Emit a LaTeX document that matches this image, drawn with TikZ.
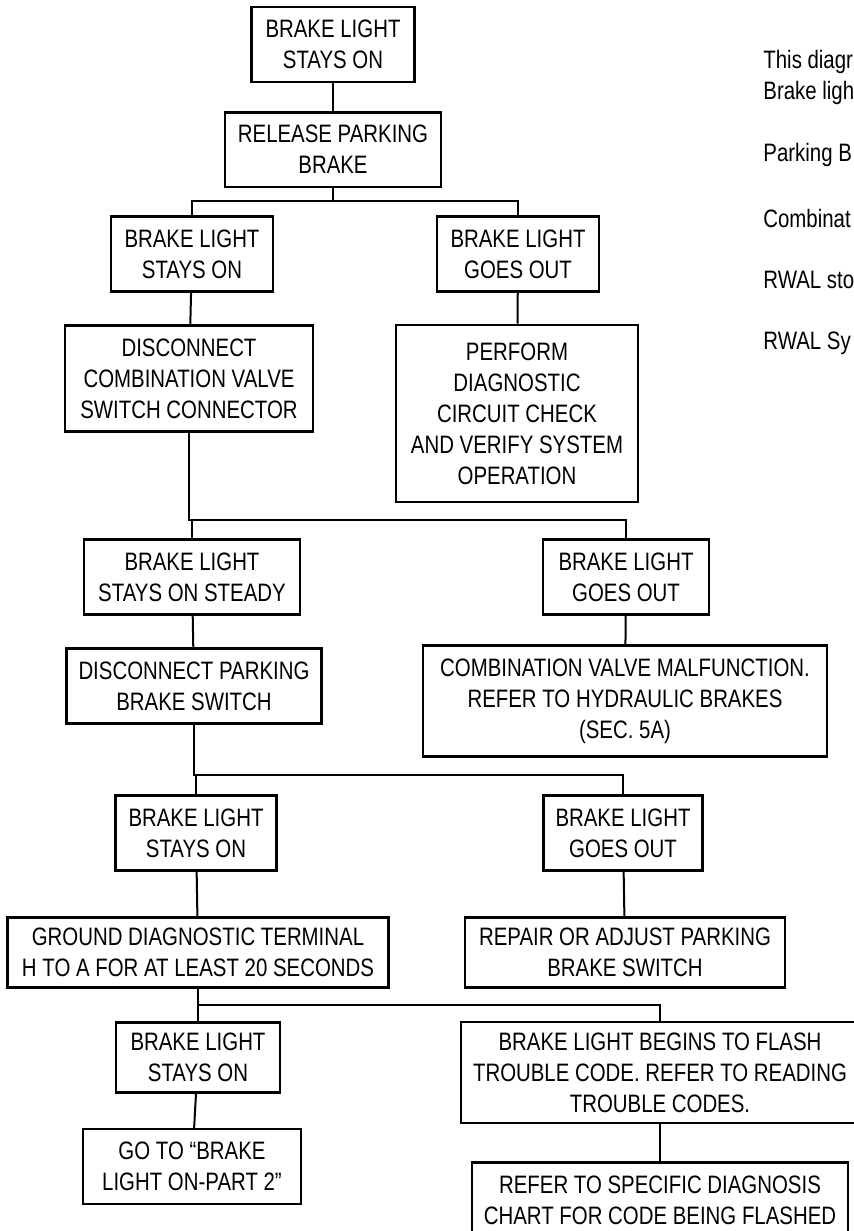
\documentclass[tikz,border=0pt]{standalone}
\usepackage{fontspec}
\setmainfont{Liberation Sans}[FakeStretch=0.81]
\usepackage{tikz}
\usetikzlibrary{shapes,arrows}
\tikzstyle{block} = [rectangle, draw, line width=1.3pt, align=center,
    inner xsep=6pt, inner ysep=6.5pt, font=\fontsize{12.6}{15.5}\selectfont]
\tikzstyle{note} = [anchor=west, inner sep=0pt, font=\fontsize{12.6}{15.5}\selectfont]
\tikzstyle{line} = [draw, line width=1pt]

\begin{document}
\begin{tikzpicture}
    \useasboundingbox (-166.5pt,22.25pt) rectangle (260pt,-593.25pt);
    % Place nodes
    \node [block, minimum width=81.5pt] (top) {BRAKE LIGHT\\STAYS ON};
    \node [block, below of=top, node distance=52.5pt, minimum width=108pt] (release) {RELEASE PARKING\\BRAKE};
    \node [block, below of=release, node distance=52.25pt, xshift=-70.5pt, minimum width=81pt] (stayon1) {BRAKE LIGHT\\STAYS ON};
    \node [block, right of=stayon1, node distance=163pt, minimum width=81pt] (goesout1) {BRAKE LIGHT\\GOES OUT};
    \node [block, below of=stayon1, node distance=62.25pt, xshift=-1.5pt, minimum width=124pt] (discvalve) {DISCONNECT\\COMBINATION VALVE\\SWITCH CONNECTOR};
    \node [block, right of=discvalve, node distance=164pt, yshift=-17.5pt, minimum width=121pt, minimum height=88.5pt] (perform) {PERFORM\\DIAGNOSTIC\\CIRCUIT CHECK\\AND VERIFY SYSTEM\\OPERATION};
    \node [block, below of=discvalve, node distance=99.25pt, xshift=1.5pt, minimum width=108pt] (steady) {BRAKE LIGHT\\STAYS ON STEADY};
    \node [block, right of=steady, node distance=217pt, minimum width=83pt] (goesout2) {BRAKE LIGHT\\GOES OUT};
    \node [block, below of=steady, node distance=54.5pt, xshift=1pt, minimum width=126.5pt] (discpark) {DISCONNECT PARKING\\BRAKE SWITCH};
    \node [block, right of=discpark, node distance=215.5pt, yshift=-7.5pt, minimum width=202pt] (malfunc) {COMBINATION VALVE MALFUNCTION.\\REFER TO HYDRAULIC BRAKES\\(SEC. 5A)};
    \node [block, below of=discpark, node distance=73.5pt, xshift=1pt, minimum width=80.5pt] (stayon2) {BRAKE LIGHT\\STAYS ON};
    \node [block, right of=stayon2, node distance=213.5pt, minimum width=78.5pt] (goesout3) {BRAKE LIGHT\\GOES OUT};
    \node [block, below of=stayon2, node distance=59.75pt, xshift=1pt, minimum width=190.5pt, inner ysep=5.2pt] (ground) {GROUND DIAGNOSTIC TERMINAL\\H TO A FOR AT LEAST 20 SECONDS};
    \node [block, right of=ground, node distance=213.5pt, minimum width=160pt, inner ysep=5.2pt] (repair) {REPAIR OR ADJUST PARKING\\BRAKE SWITCH};
    \node [block, below of=ground, node distance=52.5pt, minimum width=82pt, inner ysep=5.2pt] (stayon3) {BRAKE LIGHT\\STAYS ON};
    \node [block, right of=stayon3, node distance=231pt, yshift=-7.5pt, minimum width=192pt, inner ysep=5.2pt] (flash) {BRAKE LIGHT BEGINS TO FLASH\\TROUBLE CODE. REFER TO READING\\TROUBLE CODES.};
    \node [block, below of=stayon3, node distance=54.5pt, xshift=-3pt, minimum width=109pt] (part2) {GO TO ``BRAKE\\LIGHT ON-PART 2''};
    \node [block, below of=flash, node distance=63.75pt, minimum width=183.5pt] (specific) {REFER TO SPECIFIC DIAGNOSIS\\CHART FOR CODE BEING FLASHED};
    % Side notes
    \node [note, align=left] at (215pt,-16.5pt) (intro) {This diagr\\Brake ligh};
    \node [note] at (215pt,-55.25pt) (parknote) {Parking B};
    \node [note] at (215pt,-86.75pt) (valvenote) {Combinat};
    \node [note] at (215pt,-117.75pt) (rwalnote) {RWAL sto};
    \node [note] at (215pt,-149.25pt) (sysnote) {RWAL Sy};
    % Forks
    \coordinate (fork1) at ([yshift=7pt]stayon1.north);
    \coordinate (fork2) at ([yshift=9pt]steady.north);
    \coordinate (fork3) at ([yshift=9.5pt]stayon2.north);
    \coordinate (fork4) at ([yshift=8pt]stayon3.north);
    % Draw edges
    \path [line] (top) -- (release);
    \path [line] (release.south) |- (fork1) -- (stayon1.north);
    \path [line] (fork1) -| (goesout1.north);
    \path [line] (stayon1) -- (discvalve);
    \path [line] (goesout1) -- (perform);
    \path [line] (discvalve.south) |- (fork2) -- (steady.north);
    \path [line] (fork2) -| (goesout2.north);
    \path [line] (steady) -- (discpark);
    \path [line] (goesout2) -- (malfunc);
    \path [line] (discpark.south) |- (fork3) -- (stayon2.north);
    \path [line] (fork3) -| (goesout3.north);
    \path [line] (stayon2) -- (ground);
    \path [line] (goesout3) -- (repair);
    \path [line] (ground.south) |- (fork4) -- (stayon3.north);
    \path [line] (fork4) -| (flash.north);
    \path [line] (stayon3) -- (part2);
    \path [line] (flash) -- (specific);
\end{tikzpicture}
\end{document}
